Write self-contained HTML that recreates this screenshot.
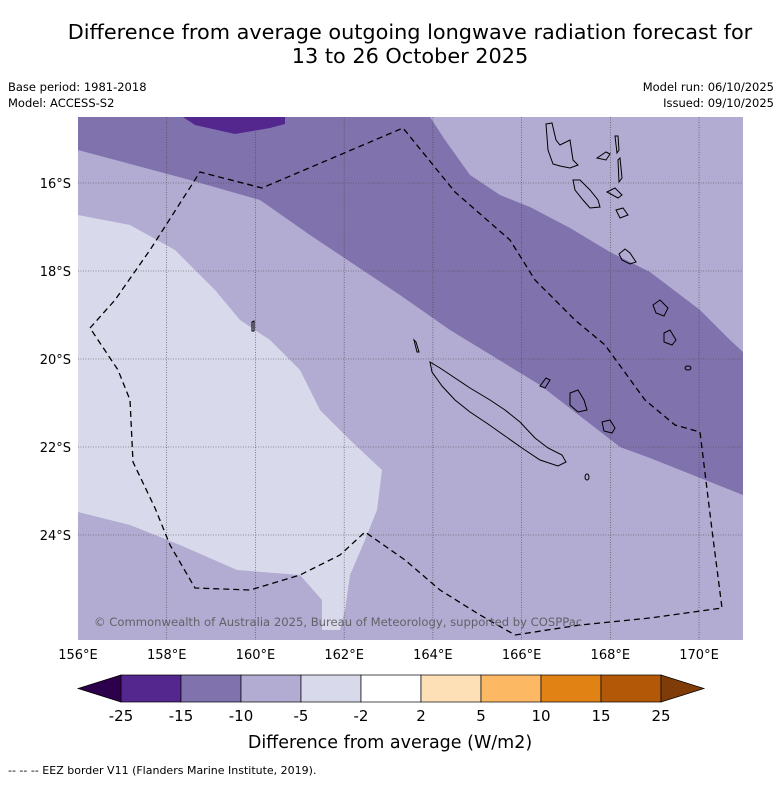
<!DOCTYPE html>
<html><head><meta charset="utf-8"><style>
body{margin:0;background:#fff;font-family:"Liberation Sans","DejaVu Sans",sans-serif}
</style></head><body>
<svg width="781" height="781" xmlns="http://www.w3.org/2000/svg" font-family="DejaVu Sans, Liberation Sans, sans-serif">
<text x="410" y="39" text-anchor="middle" font-size="20.8">Difference from average outgoing longwave radiation forecast for</text>
<text x="410" y="63" text-anchor="middle" font-size="20.8">13 to 26 October 2025</text>
<text x="8" y="91" font-size="11.5">Base period: 1981-2018</text>
<text x="8" y="107" font-size="11.5">Model: ACCESS-S2</text>
<text x="774" y="91" font-size="11.5" text-anchor="end">Model run: 06/10/2025</text>
<text x="774" y="107" font-size="11.5" text-anchor="end">Issued: 09/10/2025</text>
<defs><clipPath id="mc"><rect x="78" y="117" width="665" height="523"/></clipPath></defs>
<g clip-path="url(#mc)">
<rect x="78" y="117" width="665" height="523" fill="#b2abd2"/>
<polygon fill="#7f72ad" points="78,117 430,117 445,140 470,175 500,195 530,207 570,228 610,252 650,272 700,310 730,340 743,352 743,495 650,458 620,447 540,385 450,330 400,295 310,235 260,200 190,180 78,150"/>
<polygon fill="#54278f" points="183,117 195,125 235,134 270,128 285,124 285,117"/>
<polygon fill="#d8daeb" points="78,215 130,225 175,250 215,290 240,320 270,340 300,370 320,410 350,440 382,470 377,510 365,540 350,575 345,610 340,630 322,630 322,600 300,575 237,570 180,545 130,525 78,512"/>
<g stroke="#444" stroke-width="0.6" stroke-dasharray="1,1.5" id="grid"></g>
<g fill="none" stroke="#000" stroke-width="1">
<polygon points="430,362 440,368 455,378 470,388 490,400 505,410 520,422 535,438 548,448 562,455 566,462 558,466 540,460 522,448 505,436 488,424 470,412 455,400 442,386 432,372"/>
<polygon points="546,124 552,123 556,140 560,145 570,140 573,160 578,165 570,168 560,166 553,164 548,150"/>
<polygon points="615,136 618,136 619,150 617,153"/><polygon points="618,160 620,158 622,178 619,182"/>
<polygon points="597,158 606,152 610,154 606,160"/>
<polygon points="573,180 580,180 590,190 598,200 600,207 590,208 583,200 575,190"/>
<polygon points="607,192 615,188 622,195 618,198"/>
<polygon points="616,210 623,208 628,215 620,218"/>
<polygon points="619,254 625,249 630,253 636,262 630,264 622,260"/>
<polygon points="653,305 660,300 668,308 664,316 656,313"/>
<polygon points="664,333 670,330 676,340 672,345 664,342"/>
<polygon points="570,393 578,390 584,400 587,410 578,412 570,405"/>
<polygon points="602,422 610,420 615,428 612,433 604,431"/>
<polygon points="540,386 546,378 550,380 545,388"/>
<ellipse cx="688" cy="368" rx="3" ry="2"/><ellipse cx="587" cy="477" rx="2" ry="3"/>
<polygon points="252,322 254,321 254,331 252,331"/>
<polygon points="414,340 416,342 419,352 417,352"/>
</g>
<polyline fill="none" stroke="#000" stroke-width="1.3" stroke-dasharray="6,4" points="90,328 115,300 150,250 200,172 262,188 403,128 455,192 510,240 535,280 575,320 605,345 645,400 675,425 700,432 712,530 722,608 650,618 580,625 515,635 480,615 440,590 405,560 365,532 340,555 300,575 250,590 195,588 170,545 155,508 133,462 130,400 118,370 90,328"/>
<text x="94" y="626" font-size="11.6" fill="#555" opacity="0.85">© Commonwealth of Australia 2025, Bureau of Meteorology, supported by COSPPac</text>
</g>
<g id="axes" font-size="13"></g>
<g id="cbar"></g>
<text x="390" y="748" text-anchor="middle" font-size="17.5">Difference from average (W/m2)</text>
<text x="8" y="774" font-size="11">--  --  -- EEZ border V11 (Flanders Marine Institute, 2019).</text>
</svg>
<script>
const lonTicks=[156,158,160,162,164,166,168,170];
const latTicks=[16,18,20,22,24];
const levels=[-25,-15,-10,-5,-2,2,5,10,15,25];
const levelColors=["#54278f","#7f72ad","#b2abd2","#d8daeb","#ffffff","#fee0b6","#fdb863","#e08214","#b35806"];
const extColors=["#2d004b","#7f3b08"];
const NS="http://www.w3.org/2000/svg";
const xLon=l=>78+(l-156)*44.36;
const yLat=l=>183+(l-16)*44;
const grid=document.getElementById('grid'), axes=document.getElementById('axes');
function mk(t,a,p){const e=document.createElementNS(NS,t);for(const k in a)e.setAttribute(k,a[k]);p.appendChild(e);return e;}
lonTicks.forEach(l=>{
 if(l>156){const g=mk('line',{x1:xLon(l),x2:xLon(l),y1:117,y2:640},grid);
 
 }
 const t=mk('text',{x:xLon(l),y:659,'text-anchor':'middle'},axes);t.textContent=l+'°E';
 
 
});
latTicks.forEach(l=>{
 const g=mk('line',{x1:78,x2:743,y1:yLat(l),y2:yLat(l)},grid);
 
 
 const t=mk('text',{x:71,y:yLat(l)+5,'text-anchor':'end'},axes);t.textContent=l+'°S';
 
 
});
const cb=document.getElementById('cbar');
const x0=121,w=60,y0=675,h=27;
levelColors.forEach((c,i)=>{
 const r=mk('rect',{x:x0+i*w,y:y0,width:w,height:h,fill:c,stroke:'#000','stroke-width':0.7},cb);
 
 
});
const xe=x0+levelColors.length*w;
const a1=mk('polygon',{points:`${x0},${y0} ${x0},${y0+h} 78,${y0+h/2}`,fill:extColors[0],stroke:'#000','stroke-width':0.7},cb);


const a2=mk('polygon',{points:`${xe},${y0} ${xe},${y0+h} ${xe+43},${y0+h/2}`,fill:extColors[1],stroke:'#000','stroke-width':0.7},cb);


levels.forEach((v,i)=>{
 const t=mk('text',{x:x0+i*w,y:721,'text-anchor':'middle','font-size':15},cb);t.textContent=v;
 
 
});
</script>
</body></html>
